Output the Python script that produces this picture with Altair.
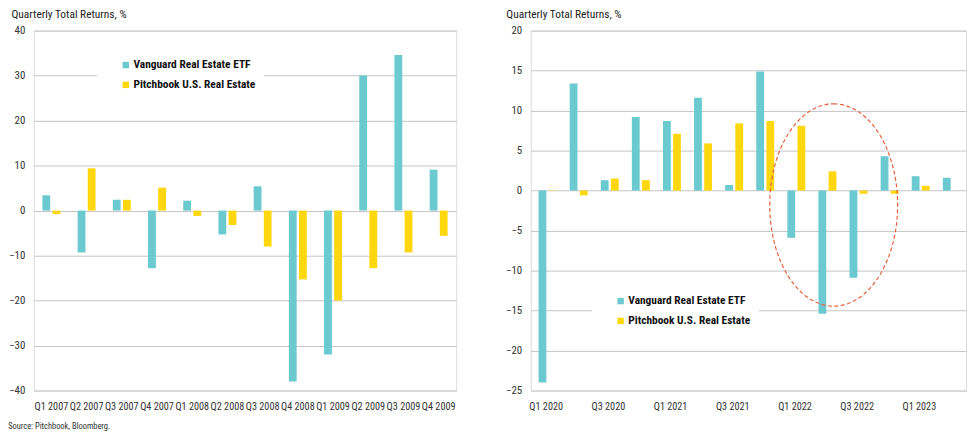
import altair as alt
import pandas as pd

FONT = "Liberation Sans Narrow, Arial Narrow, Roboto Condensed, DejaVu Sans Condensed, sans-serif"

series = ["Vanguard Real Estate ETF", "Pitchbook U.S. Real Estate"]
colors = ["#6BC9D0", "#FFD70F"]

left_quarters = ["Q1 2007", "Q2 2007", "Q3 2007", "Q4 2007", "Q1 2008", "Q2 2008",
                 "Q3 2008", "Q4 2008", "Q1 2009", "Q2 2009", "Q3 2009", "Q4 2009"]
left_vanguard = [3.4, -9.3, 2.4, -12.8, 2.2, -5.3, 5.4, -38.0, -32.0, 30.0, 34.6, 9.1]
left_pitchbook = [-0.8, 9.4, 2.4, 5.1, -1.2, -3.2, -8.0, -15.3, -20.0, -12.8, -9.3, -5.6]
left_y_ticks = [-40, -30, -20, -10, 0, 10, 20, 30, 40]

right_quarters = ["Q1 2020", "Q2 2020", "Q3 2020", "Q4 2020", "Q1 2021", "Q2 2021", "Q3 2021",
                  "Q4 2021", "Q1 2022", "Q2 2022", "Q3 2022", "Q4 2022", "Q1 2023", "Q2 2023"]
right_vanguard = [-24.0, 13.4, 1.3, 9.2, 8.7, 11.6, 0.7, 14.9, -5.9, -15.4, -10.9, 4.3, 1.8, 1.6]
right_pitchbook = [0.05, -0.6, 1.5, 1.3, 7.1, 5.9, 8.4, 8.7, 8.1, 2.4, -0.4, -0.4, 0.6, None]
right_tick_labels = ["Q1 2020", "Q3 2020", "Q1 2021", "Q3 2021", "Q1 2022", "Q3 2022", "Q1 2023"]
right_y_ticks = [-25, -20, -15, -10, -5, 0, 5, 10, 15, 20]

# highlight ellipse annotation (right panel)
ellipse_quarter = ["Q2 2022"]
ellipse_value = [-1.8]

y_title = "Quarterly Total Returns, %"
source_text = "Source: Pitchbook, Bloomberg."


def make_df(quarters, v, p):
    rows = []
    for q, a, b in zip(quarters, v, p):
        rows.append({"quarter": q, "series": series[0], "value": a})
        if b is not None:
            rows.append({"quarter": q, "series": series[1], "value": b})
    return pd.DataFrame(rows)


def panel(df, quarters, domain, ticks, x_values, width, pad_inner, off_inner,
          legend_x, legend_y, title_x):
    legend = alt.Legend(
        title=None, orient="none", legendX=legend_x, legendY=legend_y,
        symbolType="square", symbolSize=42, symbolStrokeWidth=0,
        labelFont=FONT, labelFontSize=11.5, labelFontWeight="bold", labelColor="#111",
        rowPadding=7, labelOffset=2, fillColor="white", padding=8, symbolOffset=15,
    )
    axis_kw = dict(title=None, labelAngle=0, ticks=False, domain=False,
                   labelFont=FONT, labelFontSize=10.3, labelColor="#333",
                   labelPadding=11, labelOverlap=False)
    if x_values is not None:
        axis_kw["values"] = x_values
    x_axis = alt.Axis(**axis_kw)
    bars = alt.Chart(df).mark_bar().encode(
        x=alt.X("quarter:N", sort=quarters,
                scale=alt.Scale(domain=quarters, paddingInner=pad_inner, paddingOuter=pad_inner / 2),
                axis=x_axis),
        xOffset=alt.XOffset("series:N", sort=series,
                            scale=alt.Scale(domain=series, paddingInner=off_inner, paddingOuter=0)),
        y=alt.Y("value:Q", scale=alt.Scale(domain=domain, nice=False, zero=False),
                axis=alt.Axis(values=ticks, title=y_title, titleAngle=0, titleAlign="left",
                              titleBaseline="alphabetic", titleX=title_x, titleY=-13,
                              titleFont=FONT, titleFontSize=11.5, titleFontWeight="normal",
                              titleColor="#222", ticks=False, domain=False,
                              labelFont=FONT, labelFontSize=11, labelColor="#333",
                              labelPadding=9, gridColor="#C4C4C4", gridWidth=1)),
        color=alt.Color("series:N", sort=series,
                        scale=alt.Scale(domain=series, range=colors), legend=legend),
    )
    return bars.properties(width=width, height=363)


left_df = make_df(left_quarters, left_vanguard, left_pitchbook)
right_df = make_df(right_quarters, right_vanguard, right_pitchbook)

left = panel(left_df, left_quarters, [-40, 40], left_y_ticks, None, 426, 0.49, 0.23,
             64, 21, -23)

right_bars = panel(right_df, right_quarters, [-25, 20], right_y_ticks, right_tick_labels, 439,
                   0.51, 0.17, 62, 259, -25)

k = 0.5523
rx = 0.632
ellipse_path = (
    f"M 0 -1 C {k*rx:.4f} -1 {rx} {-k:.4f} {rx} 0 "
    f"C {rx} {k:.4f} {k*rx:.4f} 1 0 1 "
    f"C {-k*rx:.4f} 1 {-rx} {k:.4f} {-rx} 0 "
    f"C {-rx} {-k:.4f} {-k*rx:.4f} -1 0 -1 Z"
)
ell_df = pd.DataFrame({"quarter": ellipse_quarter, "value": ellipse_value})
ellipse = alt.Chart(ell_df).mark_point(
    shape=ellipse_path, filled=False, stroke="#E8603C", strokeWidth=1.2,
    strokeDash=[4, 2.5], opacity=1, size=41616, dx=2,
).encode(
    x=alt.X("quarter:N", sort=right_quarters, bandPosition=1),
    y=alt.Y("value:Q"),
)

right = alt.layer(right_bars, ellipse)

chart = alt.hconcat(left, right, spacing=48).resolve_scale(
    color="independent"
).resolve_legend(color="independent").properties(
    padding={"left": 0, "top": -2, "right": 0, "bottom": 0},
    title=alt.Title(source_text, orient="bottom", anchor="start", fontSize=8.5,
                    font=FONT, fontWeight="normal", color="#333", offset=10),
).configure_view(stroke="#A8A8A8", strokeWidth=1.2).configure(background="white")

chart.save("out.html", embed_options={"renderer": "svg", "actions": False})
